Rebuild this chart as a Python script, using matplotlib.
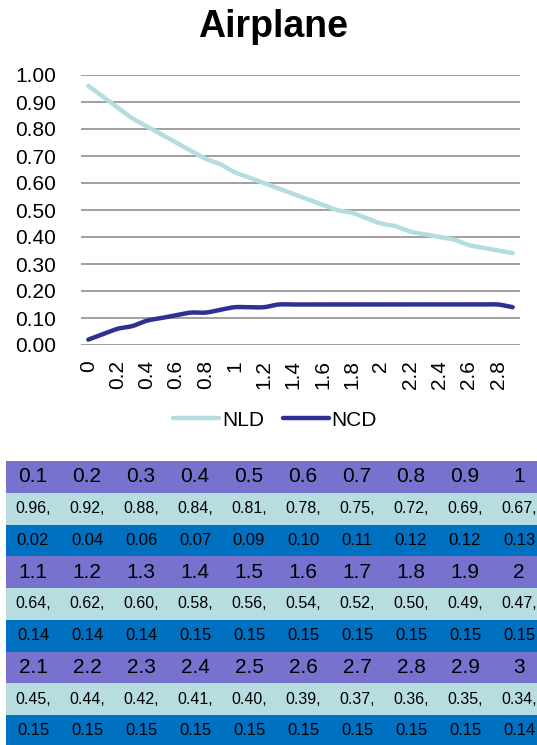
import matplotlib
matplotlib.use("Agg")
import matplotlib.pyplot as plt
import numpy as np
from matplotlib.patches import Rectangle

plt.rcParams['font.family'] = ['Liberation Sans', 'DejaVu Sans']

# Category labels along the x axis
categories = [0, 0.1, 0.2, 0.3, 0.4, 0.5, 0.6, 0.7, 0.8, 0.9,
              1, 1.1, 1.2, 1.3, 1.4, 1.5, 1.6, 1.7, 1.8, 1.9,
              2, 2.1, 2.2, 2.3, 2.4, 2.5, 2.6, 2.7, 2.8, 2.9]

# Parameter values shown in the table header rows
table_params = [0.1, 0.2, 0.3, 0.4, 0.5, 0.6, 0.7, 0.8, 0.9, 1,
                1.1, 1.2, 1.3, 1.4, 1.5, 1.6, 1.7, 1.8, 1.9, 2,
                2.1, 2.2, 2.3, 2.4, 2.5, 2.6, 2.7, 2.8, 2.9, 3]

nld = [0.96, 0.92, 0.88, 0.84, 0.81, 0.78, 0.75, 0.72, 0.69, 0.67,
       0.64, 0.62, 0.60, 0.58, 0.56, 0.54, 0.52, 0.50, 0.49, 0.47,
       0.45, 0.44, 0.42, 0.41, 0.40, 0.39, 0.37, 0.36, 0.35, 0.34]

ncd = [0.02, 0.04, 0.06, 0.07, 0.09, 0.10, 0.11, 0.12, 0.12, 0.13,
       0.14, 0.14, 0.14, 0.15, 0.15, 0.15, 0.15, 0.15, 0.15, 0.15,
       0.15, 0.15, 0.15, 0.15, 0.15, 0.15, 0.15, 0.15, 0.15, 0.14]

y_ticks = [0.0, 0.1, 0.2, 0.3, 0.4, 0.5, 0.6, 0.7, 0.8, 0.9, 1.0]

NLD_COLOR = "#B4DDE0"
NCD_COLOR = "#2E3192"
ROW_COLORS = ["#7672CE", "#B7DDE0", "#0070C0"]


def smooth_path(xs, ys, steps=12):
    """Cardinal-spline rendering of a polyline (smoothed line style)."""
    xs = np.asarray(xs, float)
    ys = np.asarray(ys, float)
    px = np.concatenate([[xs[0]], xs, [xs[-1]]])
    py = np.concatenate([[ys[0]], ys, [ys[-1]]])
    out_x, out_y = [], []
    t = np.linspace(0, 1, steps, endpoint=False)
    for i in range(1, len(px) - 2):
        p0, p1, p2, p3 = (np.array([px[j], py[j]]) for j in (i - 1, i, i + 1, i + 2))
        m1 = (p2 - p0) * 0.5
        m2 = (p3 - p1) * 0.5
        h00 = 2 * t**3 - 3 * t**2 + 1
        h10 = t**3 - 2 * t**2 + t
        h01 = -2 * t**3 + 3 * t**2
        h11 = t**3 - t**2
        seg = (np.outer(h00, p1) + np.outer(h10, m1)
               + np.outer(h01, p2) + np.outer(h11, m2))
        out_x.extend(seg[:, 0])
        out_y.extend(seg[:, 1])
    out_x.append(xs[-1])
    out_y.append(ys[-1])
    return out_x, out_y


W, H = 537, 745
fig = plt.figure(figsize=(W / 100, H / 100), dpi=100)

# ---- line chart ----
ax = fig.add_axes([81 / W, 1 - 345 / H, 439 / W, 270 / H])
x = list(range(len(categories)))
sx, sy = smooth_path(x, nld)
ax.plot(sx, sy, color=NLD_COLOR, lw=3.2, solid_capstyle='round', label="NLD")
sx, sy = smooth_path(x, ncd)
ax.plot(sx, sy, color=NCD_COLOR, lw=3.2, solid_capstyle='round', label="NCD")
ax.set_xlim(-0.5, len(categories) - 0.5)
ax.set_ylim(0, 1)
ax.set_yticks(y_ticks)
ax.set_yticklabels([f"{v:.2f}" for v in y_ticks], fontsize=15)
ax.set_xticks(x[::2])
ax.set_xticklabels([f"{c:g}" for c in categories[::2]], rotation=90,
                   fontsize=15, va='top', ha='center')
ax.tick_params(axis='y', length=0, pad=18)
ax.tick_params(axis='x', length=0, pad=11)
ax.grid(axis='y', color='#999999', lw=1.3)
ax.set_axisbelow(True)
for s in ax.spines.values():
    s.set_visible(False)

fig.text(273 / W, 1 - 27 / H, "Airplane", ha='center', va='center',
         fontsize=27, fontweight='bold')

fig.legend(loc='center', bbox_to_anchor=(275 / W, 1 - 420 / H), ncol=2,
           frameon=False, fontsize=15, handlelength=2.2, handletextpad=0.15,
           columnspacing=0.9)

# ---- data table below the chart ----
n_cols = 10
n_rows = 9
tab = fig.add_axes([6 / W, 1 - 746.75 / H, 540 / W, 285.75 / H])
tab.set_xlim(0, n_cols)
tab.set_ylim(n_rows, 0)
tab.axis('off')

for block in range(3):
    sl = slice(block * n_cols, (block + 1) * n_cols)
    rows = [
        ([f"{p:g}" for p in table_params[sl]], 15),
        ([f"{v:.2f}," for v in nld[sl]], 11.5),
        ([f"{v:.2f}" for v in ncd[sl]], 12),
    ]
    for k, (texts, fs) in enumerate(rows):
        r = block * 3 + k
        tab.add_patch(Rectangle((0, r), n_cols, 1, color=ROW_COLORS[k],
                                lw=0, clip_on=False))
        for c, t in enumerate(texts):
            tab.text(c + 0.5, r + 0.5, t, ha='center', va='center',
                     fontsize=fs, color='black')

fig.savefig("out.png", dpi=100)
